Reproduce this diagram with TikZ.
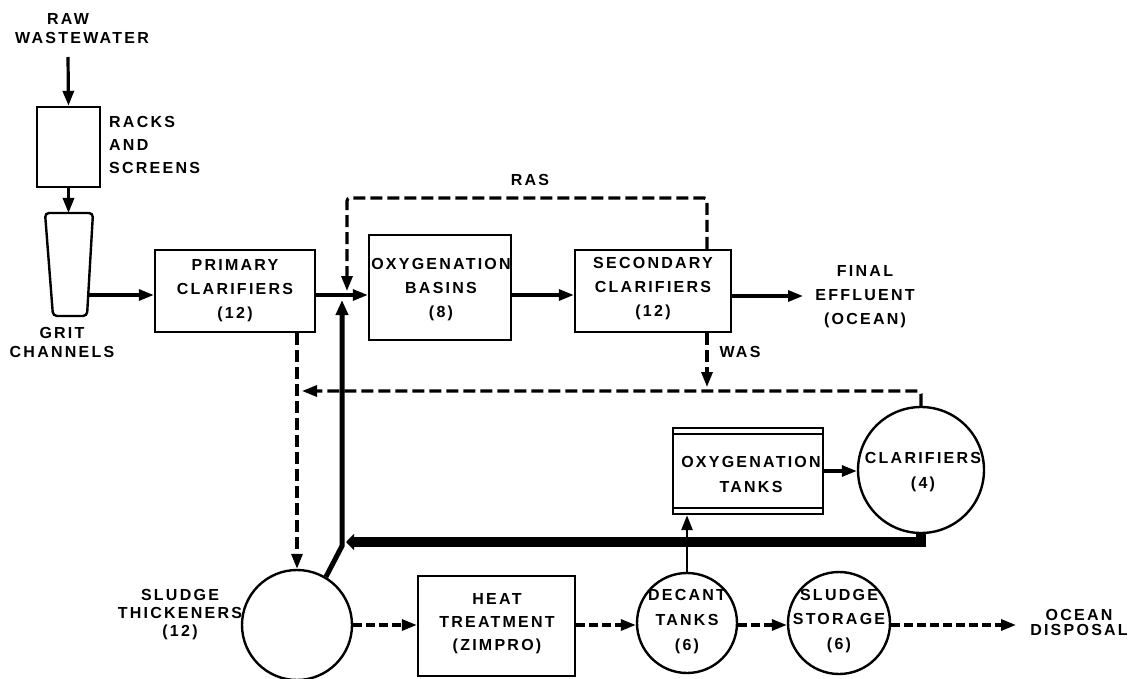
\documentclass[tikz,border=0pt]{standalone}
\usepackage{fontspec}
\newfontfamily\lblfont{Liberation Sans}[LetterSpace=14]
\usetikzlibrary{arrows.meta}
\begin{document}
\begin{tikzpicture}[x=1pt,y=-1pt,
  boxline/.style={line width=2.4pt},
  box/.style={draw, boxline, inner sep=0pt},
  disc/.style={draw, boxline, circle, inner sep=0pt},
  conn/.style={line width=3.2pt},
  tip/.style={-{Triangle[length=15pt,width=11pt]}},
  arr/.style={conn, tip},
  dsh/.style={dash pattern=on 12pt off 5pt},
  dshb/.style={dash pattern=on 9pt off 4pt},
  lbl/.style={font=\lblfont\bfseries\fontsize{16}{#1}\selectfont, align=center, inner sep=0pt},
  lbl/.default=24
]
\useasboundingbox (0,0) rectangle (1130,679);

% top-left
\node[lbl] (raw) at (68,19) {RAW};
\node[lbl] (ww) at (82,38) {WASTEWATER};
\coordinate (rawend) at (68,57);
\node[box, minimum width=63, minimum height=80] (racks) at (68.5,147) {};
\node[lbl=23, anchor=west, align=left] (racksl) at (109,145) {RACKS\\AND\\SCREENS};
\draw[arr] (rawend) -- (racks.north);

% grit channel
\coordinate (gritTop) at (68.5,213);
\coordinate (gritR) at (88.2,295);
\draw[boxline, rounded corners=4pt] (45,213) -- (53,316) -- (87,316) -- (93,213) -- cycle;
\draw[arr] (racks.south) -- (gritTop);
\node[lbl=19] (gritl) at (62,342) {GRIT\\CHANNELS};

% main line
\coordinate (jn) at (345,295);
\node[box, minimum width=160, minimum height=82] (prim) at (235,291) {};
\node[lbl] at (prim.center) {PRIMARY\\CLARIFIERS\\(12)};
\node[box, minimum width=142, minimum height=105] (bas) at (440,287.5) {};
\node[lbl] at (441,290) {OXYGENATION\\BASINS\\(8)};
\node[box, minimum width=156, minimum height=82] (sec) at (653,291) {};
\node[lbl] at (653,289) {SECONDARY\\CLARIFIERS\\(12)};
\node[lbl] (fin) at (865,297) {FINAL\\EFFLUENT\\(OCEAN)};
\coordinate (finend) at (803,296);

\draw[arr] (gritR) -- (gritR -| prim.west);
\draw[arr] (prim.east |- jn) -- (bas.west |- jn);
\draw[arr] (bas.east |- jn) -- (sec.west |- jn);
\draw[arr] (sec.east |- finend) -- (finend);

% RAS
\coordinate (rasx) at (707,198);
\coordinate (rasl) at (347,198);
\coordinate (rasend) at (347,291);
\draw[conn, dsh, tip, rounded corners=3pt] (sec.north -| rasx) -- (rasx) -- (rasl) -- (rasend);
\node[lbl] (ras) at (530,180) {RAS};

% WAS
\coordinate (wasend) at (707,387);
\draw[conn, dsh, tip] (sec.south -| rasx) -- (wasend);
\node[lbl] (was) at (740,352) {WAS};

% clarifiers (4) and tanks
\node[disc, minimum size=126] (clar) at (921,470) {};
\node[lbl=25] at (923,472) {CLARIFIERS\\(4)};
\node[box, minimum width=150, minimum height=86] (tanks) at (748,471) {};
\draw[boxline] ([yshift=-7pt]tanks.north west) -- ([yshift=-7pt]tanks.north east);
\draw[boxline] ([yshift=7pt]tanks.south west) -- ([yshift=7pt]tanks.south east);
\node[lbl=25] at (751,474) {OXYGENATION\\TANKS};
\draw[arr] (tanks.east) -- (tanks.east -| clar.west);

% dashed return to thickener line
\coordinate (dl) at (302,391);
\draw[conn, dsh, tip, rounded corners=3pt] (clar.north) -- (clar.north |- dl) -- (dl);

% bottom row
\node[disc, minimum size=110] (thk) at (297,625) {};
\node[lbl=18] (thkl) at (180,615) {SLUDGE\\THICKENERS\\(12)};
\node[box, minimum width=157, minimum height=100] (heat) at (496.5,626) {};
\node[lbl=23] at (497,624) {HEAT\\TREATMENT\\(ZIMPRO)};
\node[disc, minimum size=100] (dec) at (687,623) {};
\node[lbl=25] at (687,622) {DECANT\\TANKS\\(6)};
\node[disc, minimum size=102] (sto) at (839,623) {};
\node[lbl=24.5] at (839,621) {SLUDGE\\STORAGE\\(6)};
\node[lbl=15] (ocean) at (1079,622) {OCEAN\\DISPOSAL};
\coordinate (oceanend) at (1016,625);

\draw[conn, dshb, tip] (thk.east |- oceanend) -- (heat.west |- oceanend);
\draw[conn, dshb, tip] (heat.east |- oceanend) -- (dec.west |- oceanend);
\draw[conn, dshb, tip] (dec.east |- oceanend) -- (sto.west |- oceanend);
\draw[conn, dshb, tip] (sto.east |- oceanend) -- (oceanend);

% primary to thickener
\draw[conn, dsh, tip] (thk.north |- prim.south) -- (thk.north);

% thick return lines
\coordinate (retc) at (342,546);
\coordinate (retend) at (342,300);
\draw[line width=5pt, -{Triangle[length=15pt,width=12pt]}] (thk.59) -- (retc) -- (retend);
\coordinate (hl) at (346,542);
\draw[line width=10pt, -{Triangle[length=8pt,width=16pt]}] (clar.south) -- (clar.south |- hl) -- (hl);

% decant to tanks
\draw[conn, line width=2.6pt, tip] (dec.north) -- (dec.north |- tanks.south);
\end{tikzpicture}
\end{document}
